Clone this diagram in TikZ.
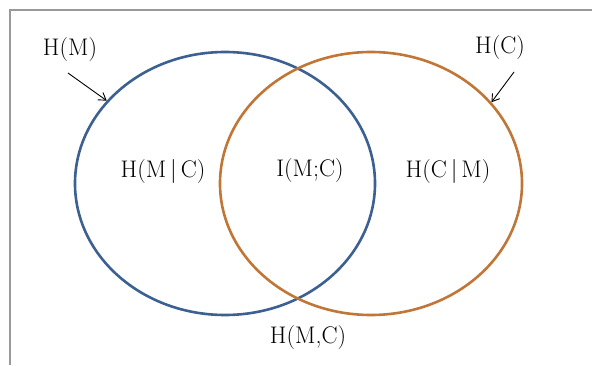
\documentclass[tikz,border=0pt]{standalone}
\usepackage{xcolor}
\usepackage{tikz}
\usetikzlibrary{shapes.geometric, arrows.meta, positioning}

\definecolor{setblue}{RGB}{60,96,146}
\definecolor{setorange}{RGB}{192,118,54}

\begin{document}
\begin{tikzpicture}[
    x=1pt, y=1pt,
    >={Straight Barb[length=7pt, width=9pt]},
    setring/.style={ellipse, draw, line width=2.6pt, minimum width=300pt, minimum height=263pt, inner sep=0pt},
    lbl/.style={font=\fontsize{24}{28}\selectfont, inner sep=1pt},
    pointer/.style={->, line width=0.9pt, black}
]
\useasboundingbox (0,0) rectangle (592,365);

% frame
\draw[gray!80, line width=1.6pt] (10,0) -- (10,355) -- (592,355);

% the two entropy sets
\node[setring, draw=setblue] (hm_set) at (225,181.5) {};
\node[setring, draw=setorange, minimum width=302pt] (hc_set) at (371,181.5) {};

% region labels
\node[lbl] (hm_given_c) at (163,194) {H(M\,|\,C)};
\node[lbl] (mutual) at (310,194) {I(M;C)};
\node[lbl] (hc_given_m) at (448,194) {H(C\,|\,M)};
\node[lbl] (joint) at (308,27) {H(M,C)};

% set labels
\node[lbl] (hm) at (70,315) {H(M)};
\node[lbl] (hc) at (500,317) {H(C)};
\coordinate (hm_tail) at (68,292);
\coordinate (hc_tail) at (514,293);

\draw[pointer] (hm_tail) -- (hm_set.145);
\draw[pointer] (hc_tail) -- (hc_set.34);

\end{tikzpicture}
\end{document}
